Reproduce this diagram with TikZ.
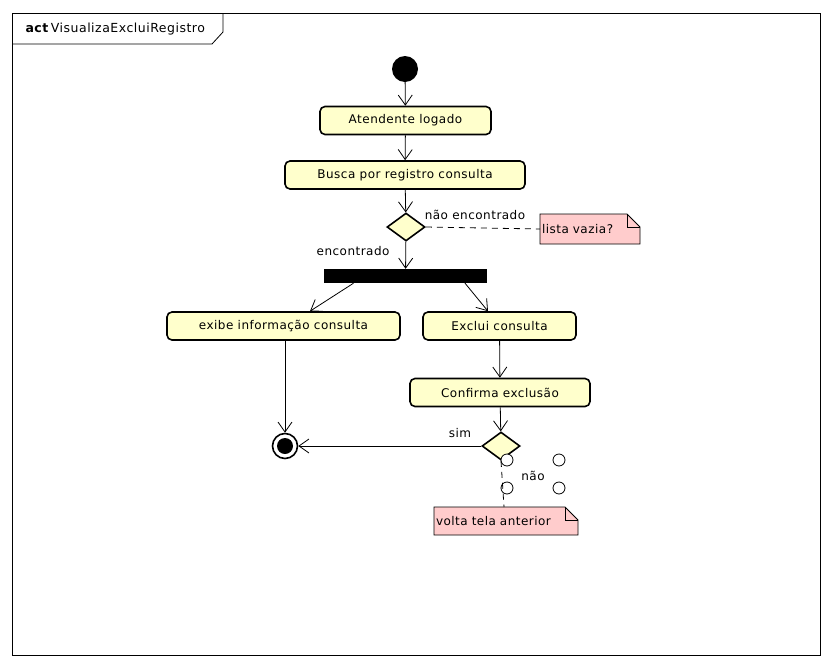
\documentclass[tikz,border=0pt]{standalone}
\usepackage{fontspec}
\setmainfont{DejaVu Sans}[LetterSpace=4]
\usetikzlibrary{arrows.meta,shapes.geometric}
\definecolor{actfill}{RGB}{255,255,204}
\definecolor{notefill}{RGB}{255,204,204}
\begin{document}
\begin{tikzpicture}[x=1pt,y=-1pt,
  txt/.style={font=\fontsize{12}{14}\selectfont},
  action/.style={txt,draw=black,line width=1.6pt,fill=actfill,rounded corners=5pt,
    minimum height=28pt,inner sep=0pt},
  decision/.style={diamond,draw=black,line width=1.6pt,fill=actfill,
    minimum width=38pt,minimum height=28pt,inner sep=0pt},
  flow/.style={line width=0.8pt,-{Straight Barb[length=10pt,width=14pt]}},
  link/.style={line width=0.8pt,dash pattern=on 6pt off 5pt},
  notebox/.style={txt,inner ysep=0pt,inner xsep=2pt,outer sep=0pt,align=left,anchor=north west},
  noteline/.style={line width=0.8pt},
  pin/.style={circle,draw=black,line width=0.8pt,fill=white,minimum size=12pt,inner sep=0pt}]
\useasboundingbox (0,0) rectangle (836,670);

% frame with its name tab
\draw[line width=0.8pt] (12,13) rectangle (820,655);
\draw[line width=0.8pt] (12,44) -- (212,44) -- (223,32) -- (223,13);
\node[anchor=west,font=\fontsize{12.5}{14}\selectfont] (title) at (22,29.5) {\textbf{act}\,VisualizaExcluiRegistro};

% nodes
\node[circle,fill=black,minimum size=26pt,inner sep=0pt] (start) at (405,69) {};
\node[action,minimum width=171pt] (logado) at (405.5,120.5) {Atendente logado};
\node[action,minimum width=240pt] (busca) at (405,175) {Busca por registro consulta};
\node[decision] (d1) at (406,227) {};
\node[fill=black,minimum width=163pt,minimum height=14pt,inner sep=0pt] (fork) at (405.5,276) {};
\node[action,minimum width=233pt] (exibe) at (283.5,326) {exibe informação consulta};
\node[action,minimum width=153pt] (exclui) at (499.5,326) {Exclui consulta};
\node[action,minimum width=180pt] (confirma) at (500,392.5) {Confirma exclusão};
\node[decision] (d2) at (501,446) {};
\node[circle,draw=black,line width=1.6pt,fill=white,minimum size=25pt,inner sep=0pt] (final) at (285,446) {};
\node[circle,fill=black,minimum size=16pt,inner sep=0pt] (finaldot) at (final.center) {};

% notes: folded-corner outline, then the text on top
\draw[noteline,fill=notefill] (540,214) -- (627,214) -- (640,227) -- (640,244) -- (540,244) -- cycle;
\draw[noteline] (627,214) -- (627,227) -- (640,227);
\node[notebox,text width=96pt,minimum height=30pt] (n1) at (540,214) {lista vazia?};

\draw[noteline,fill=notefill] (434,507) -- (565,507) -- (578,520) -- (578,535) -- (434,535) -- cycle;
\draw[noteline] (565,507) -- (565,520) -- (578,520);
\node[notebox,text width=140pt,minimum height=28pt] (n2) at (434,507) {volta tela anterior};

% pins around the second decision
\node[pin] (p1) at (507,460) {};
\node[pin] (p2) at (559,460) {};
\node[pin] (p3) at (507,488) {};
\node[pin] (p4) at (559,488) {};

% flows
\draw[flow] (start) -- (logado);
\draw[flow] (logado) -- (busca);
\draw[flow] (busca) -- (d1);
\draw[flow] (d1) -- (fork);
\draw[flow] ([xshift=-52pt]fork.south) -- ([xshift=26.5pt]exibe.north);
\draw[flow] ([xshift=59.5pt]fork.south) -- ([xshift=-11.5pt]exclui.north);
\draw[flow] (exibe.south -| final) -- (final);
\draw[flow] (exclui) -- (confirma);
\draw[flow] (confirma) -- (d2);
\draw[flow] (d2) -- (final);
\draw[link] (d1.east) -- (n1.west);
\draw[link] (d2.south) -- ([xshift=70pt]n2.north west);

% labels
\node[txt] (lnao1) at (475,215) {não encontrado};
\node[txt,anchor=east] (lenc) at (393,251) {encontrado};
\node[txt] (lsim) at (460,433) {sim};
\node[txt] (lnao2) at (533,476) {não};
\end{tikzpicture}
\end{document}
